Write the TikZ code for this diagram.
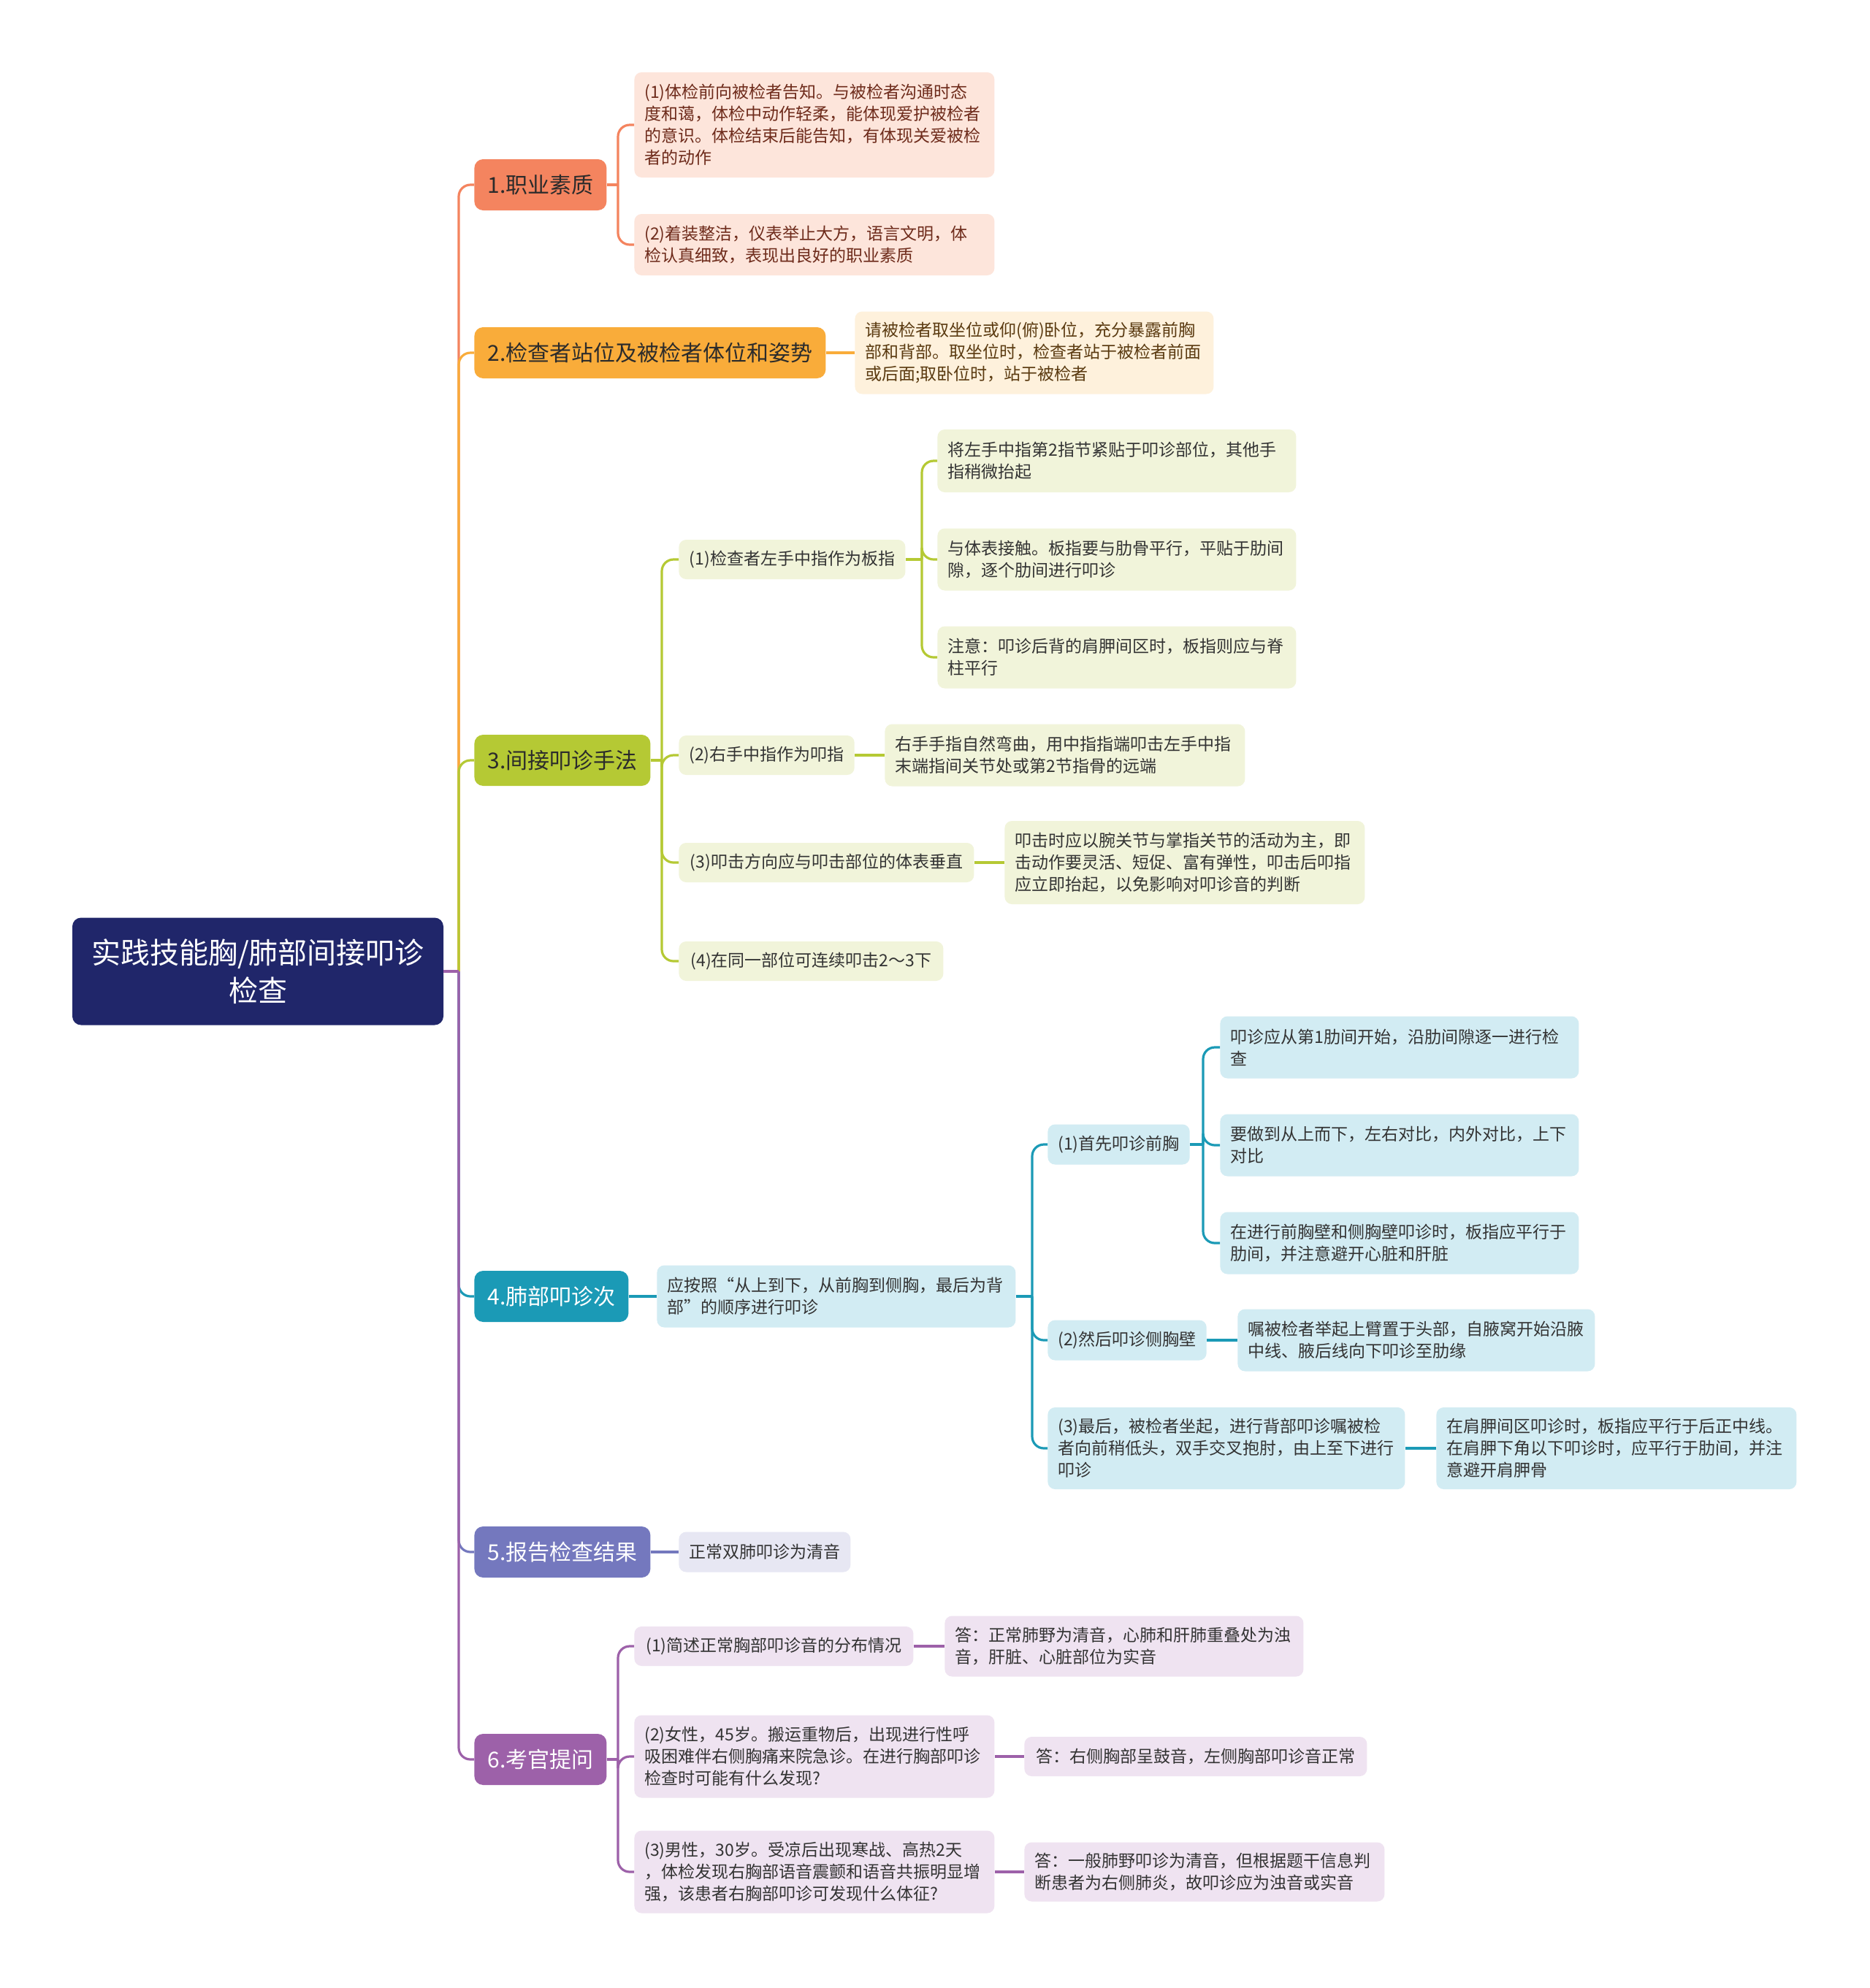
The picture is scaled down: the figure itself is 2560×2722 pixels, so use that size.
\documentclass[tikz,border=0pt]{standalone}
\usepackage{fontspec}
\setmainfont{Noto Sans CJK SC}
\definecolor{c1}{HTML}{F4845F}
\definecolor{c2}{HTML}{F9AC3A}
\definecolor{c3}{HTML}{B5C934}
\definecolor{c4}{HTML}{1B9AB6}
\definecolor{c5}{HTML}{7478BE}
\definecolor{c6}{HTML}{9D61A9}
\definecolor{f1}{HTML}{FDE5DB}
\definecolor{f2}{HTML}{FEF1DC}
\definecolor{f3}{HTML}{F1F4DA}
\definecolor{f4}{HTML}{D2ECF3}
\definecolor{f5}{HTML}{E7E7F3}
\definecolor{f6}{HTML}{EFE3F1}
\definecolor{rootc}{HTML}{20266A}
\definecolor{dk}{HTML}{2B2B2B}
\definecolor{t1}{HTML}{6E2B1B}
\definecolor{t2}{HTML}{5A3A10}
\definecolor{tt}{HTML}{333333}
\begin{document}
\begin{tikzpicture}[x=0.5pt,y=-0.5pt,
  every node/.style={inner sep=0pt},
  root/.style={fill=rootc, text=white, rounded corners=6pt, align=center,
    font=\fontsize{20}{26}\selectfont, minimum width=254pt, minimum height=73.5pt},
  br/.style={fill=#1, rounded corners=6pt, anchor=west, inner xsep=9pt,
    minimum height=35pt, font=\fontsize{15}{18}\selectfont},
  lf/.style={fill=#1, rounded corners=5pt, anchor=west, inner xsep=7pt, align=left,
    text=tt, font=\fontsize{11.5}{15}\selectfont},
  ln/.style={draw=#1, line width=1.6pt},
  rc/.style={rounded corners=8pt}
]
\fill[white] (0,0) rectangle (2560,2722);
\useasboundingbox (0,0) rectangle (2560,2722);

% root
\node[root] (root) at (353,1330) {实践技能胸/肺部间接叩诊\\检查};

% main branches
\node[br=c1, text=dk, minimum width=89.5pt] (n1) at (649,253) {1.职业素质};
\node[br=c2, text=dk, minimum width=239.5pt] (n2) at (649,483) {2.检查者站位及被检者体位和姿势};
\node[br=c3, text=dk, minimum width=119pt] (n3) at (649,1041) {3.间接叩诊手法};
\node[br=c4, text=white, minimum width=103.5pt] (n4) at (649,1775) {4.肺部叩诊次};
\node[br=c5, text=white, minimum width=119pt] (n5) at (649,2125) {5.报告检查结果};
\node[br=c6, text=white, minimum width=89.5pt] (n6) at (649,2409) {6.考官提问};

% branch 1
\node[lf=f1, text=t1, text width=232.5pt, minimum height=72pt] (a11) at (868,171)
  {(1)体检前向被检者告知。与被检者沟通时态\\度和蔼，体检中动作轻柔，能体现爱护被检者\\的意识。体检结束后能告知，有体现关爱被检\\者的动作};
\node[lf=f1, text=t1, text width=232.5pt, minimum height=42pt] (a12) at (868,335)
  {(2)着装整洁，仪表举止大方，语言文明，体\\检认真细致，表现出良好的职业素质};

% branch 2
\node[lf=f2, text=t2, text width=231.5pt, minimum height=56.5pt] (a21) at (1170,483)
  {请被检者取坐位或仰(俯)卧位，充分暴露前胸\\部和背部。取坐位时，检查者站于被检者前面\\或后面;取卧位时，站于被检者};

% branch 3
\node[lf=f3, minimum width=155pt, minimum height=27pt] (a31) at (929,766) {(1)检查者左手中指作为板指};
\node[lf=f3, minimum width=119.5pt, minimum height=27pt] (a32) at (929,1034) {(2)右手中指作为叩指};
\node[lf=f3, minimum width=202pt, minimum height=27pt] (a33) at (929,1181) {(3)叩击方向应与叩击部位的体表垂直};
\node[lf=f3, minimum width=181pt, minimum height=27pt] (a34) at (929,1316) {(4)在同一部位可连续叩击2～3下};
\node[lf=f3, text width=231.5pt, minimum height=43pt] (a311) at (1283,631)
  {将左手中指第2指节紧贴于叩诊部位，其他手\\指稍微抬起};
\node[lf=f3, text width=231.5pt, minimum height=42.5pt] (a312) at (1283,766)
  {与体表接触。板指要与肋骨平行，平贴于肋间\\隙，逐个肋间进行叩诊};
\node[lf=f3, text width=231.5pt, minimum height=42.5pt] (a313) at (1283,900)
  {注意：叩诊后背的肩胛间区时，板指则应与脊\\柱平行};
\node[lf=f3, text width=232.5pt, minimum height=42.5pt] (a321) at (1211,1034)
  {右手手指自然弯曲，用中指指端叩击左手中指\\末端指间关节处或第2节指骨的远端};
\node[lf=f3, text width=232.5pt, minimum height=57pt] (a331) at (1375,1181)
  {叩击时应以腕关节与掌指关节的活动为主，即\\击动作要灵活、短促、富有弹性，叩击后叩指\\应立即抬起，以免影响对叩诊音的判断};

% branch 4
\node[lf=f4, text width=231.5pt, minimum height=42.5pt] (a40) at (899,1775)
  {应按照“从上到下，从前胸到侧胸，最后为背\\部”的顺序进行叩诊};
\node[lf=f4, minimum width=96pt, minimum height=27.5pt] (a41) at (1434,1567) {(1)首先叩诊前胸};
\node[lf=f4, minimum width=106.5pt, minimum height=27.5pt] (a42) at (1434,1835) {(2)然后叩诊侧胸壁};
\node[lf=f4, text width=230.5pt, minimum height=56pt] (a43) at (1434,1983)
  {(3)最后，被检者坐起，进行背部叩诊嘱被检\\者向前稍低头，双手交叉抱肘，由上至下进行\\叩诊};
\node[lf=f4, text width=231.5pt, minimum height=42.5pt] (a411) at (1670,1434)
  {叩诊应从第1肋间开始，沿肋间隙逐一进行检\\查};
\node[lf=f4, text width=231.5pt, minimum height=42.5pt] (a412) at (1670,1568)
  {要做到从上而下，左右对比，内外对比，上下\\对比};
\node[lf=f4, text width=231.5pt, minimum height=42.5pt] (a413) at (1670,1702)
  {在进行前胸壁和侧胸壁叩诊时，板指应平行于\\肋间，并注意避开心脏和肝脏};
\node[lf=f4, text width=230.5pt, minimum height=42.5pt] (a421) at (1694,1835)
  {嘱被检者举起上臂置于头部，自腋窝开始沿腋\\中线、腋后线向下叩诊至肋缘};
\node[lf=f4, text width=232.5pt, minimum height=56pt] (a431) at (1966,1983)
  {在肩胛间区叩诊时，板指应平行于后正中线。\\在肩胛下角以下叩诊时，应平行于肋间，并注\\意避开肩胛骨};

% branch 5
\node[lf=f5, minimum width=117pt, minimum height=27.5pt] (a51) at (929,2125) {正常双肺叩诊为清音};

% branch 6
\node[lf=f6, minimum width=191pt, minimum height=27pt] (a61) at (868,2254) {(1)简述正常胸部叩诊音的分布情况};
\node[lf=f6, text width=232.5pt, minimum height=56.5pt] (a62) at (868,2405)
  {(2)女性，45岁。搬运重物后，出现进行性呼\\吸困难伴右侧胸痛来院急诊。在进行胸部叩诊\\检查时可能有什么发现?};
\node[lf=f6, text width=232.5pt, minimum height=56.5pt] (a63) at (868,2563)
  {(3)男性，30岁。受凉后出现寒战、高热2天\\，体检发现右胸部语音震颤和语音共振明显增\\强，该患者右胸部叩诊可发现什么体征?};
\node[lf=f6, text width=231.5pt, minimum height=41.5pt] (a611) at (1293,2254)
  {答：正常肺野为清音，心肺和肝肺重叠处为浊\\音，肝脏、心脏部位为实音};
\node[lf=f6, minimum width=234.5pt, minimum height=27pt] (a621) at (1402,2405)
  {答：右侧胸部呈鼓音，左侧胸部叩诊音正常};
\node[lf=f6, text width=232.5pt, minimum height=40.5pt] (a631) at (1402,2563)
  {答：一般肺野叩诊为清音，但根据题干信息判\\断患者为右侧肺炎，故叩诊应为浊音或实音};

% ---------- connectors ----------
\coordinate (T) at (628,1330);
\draw[ln=c1,rc] (T) |- (n1.west);
\draw[ln=c2,rc] (T) |- (n2.west);
\draw[ln=c3,rc] (T) |- (n3.west);
\draw[ln=c4,rc] (T) |- (n4.west);
\draw[ln=c5,rc] (T) |- (n5.west);
\draw[ln=c6,rc] (T) |- (n6.west);
\draw[ln=c6] (root.east) -- (T);

% branch 1
\coordinate (B1) at (846,253);
\draw[ln=c1] (n1.east) -- (B1);
\draw[ln=c1,rc] (B1) |- (a11.west);
\draw[ln=c1,rc] (B1) |- (a12.west);

% branch 2
\draw[ln=c2] (n2.east) -- (a21.west);

% branch 3
\coordinate (B3) at (906,1041);
\draw[ln=c3] (n3.east) -- (B3);
\draw[ln=c3,rc] (B3) |- (a31.west);
\draw[ln=c3,rc] (B3) |- (a32.west);
\draw[ln=c3,rc] (B3) |- (a33.west);
\draw[ln=c3,rc] (B3) |- (a34.west);
\coordinate (B31) at (1262,766);
\draw[ln=c3] (a31.east) -- (B31);
\draw[ln=c3,rc] (B31) |- (a311.west);
\draw[ln=c3,rc] (B31) |- (a312.west);
\draw[ln=c3,rc] (B31) |- (a313.west);
\draw[ln=c3] (a32.east) -- (a321.west);
\draw[ln=c3] (a33.east) -- (a331.west);

% branch 4
\draw[ln=c4] (n4.east) -- (a40.west);
\coordinate (B4) at (1413,1775);
\draw[ln=c4] (a40.east) -- (B4);
\draw[ln=c4,rc] (B4) |- (a41.west);
\draw[ln=c4,rc] (B4) |- (a42.west);
\draw[ln=c4,rc] (B4) |- (a43.west);
\coordinate (B41) at (1647,1567);
\draw[ln=c4] (a41.east) -- (B41);
\draw[ln=c4,rc] (B41) |- (a411.west);
\draw[ln=c4,rc] (B41) |- (a412.west);
\draw[ln=c4,rc] (B41) |- (a413.west);
\draw[ln=c4] (a42.east) -- (a421.west);
\draw[ln=c4] (a43.east) -- (a431.west);

% branch 5
\draw[ln=c5] (n5.east) -- (a51.west);

% branch 6
\coordinate (B6) at (846,2409);
\draw[ln=c6] (n6.east) -- (B6);
\draw[ln=c6,rc] (B6) |- (a61.west);
\draw[ln=c6,rc] (B6) |- (a62.west);
\draw[ln=c6,rc] (B6) |- (a63.west);
\draw[ln=c6] (a61.east) -- (a611.west);
\draw[ln=c6] (a62.east) -- (a621.west);
\draw[ln=c6] (a63.east) -- (a631.west);
\end{tikzpicture}
\end{document}
